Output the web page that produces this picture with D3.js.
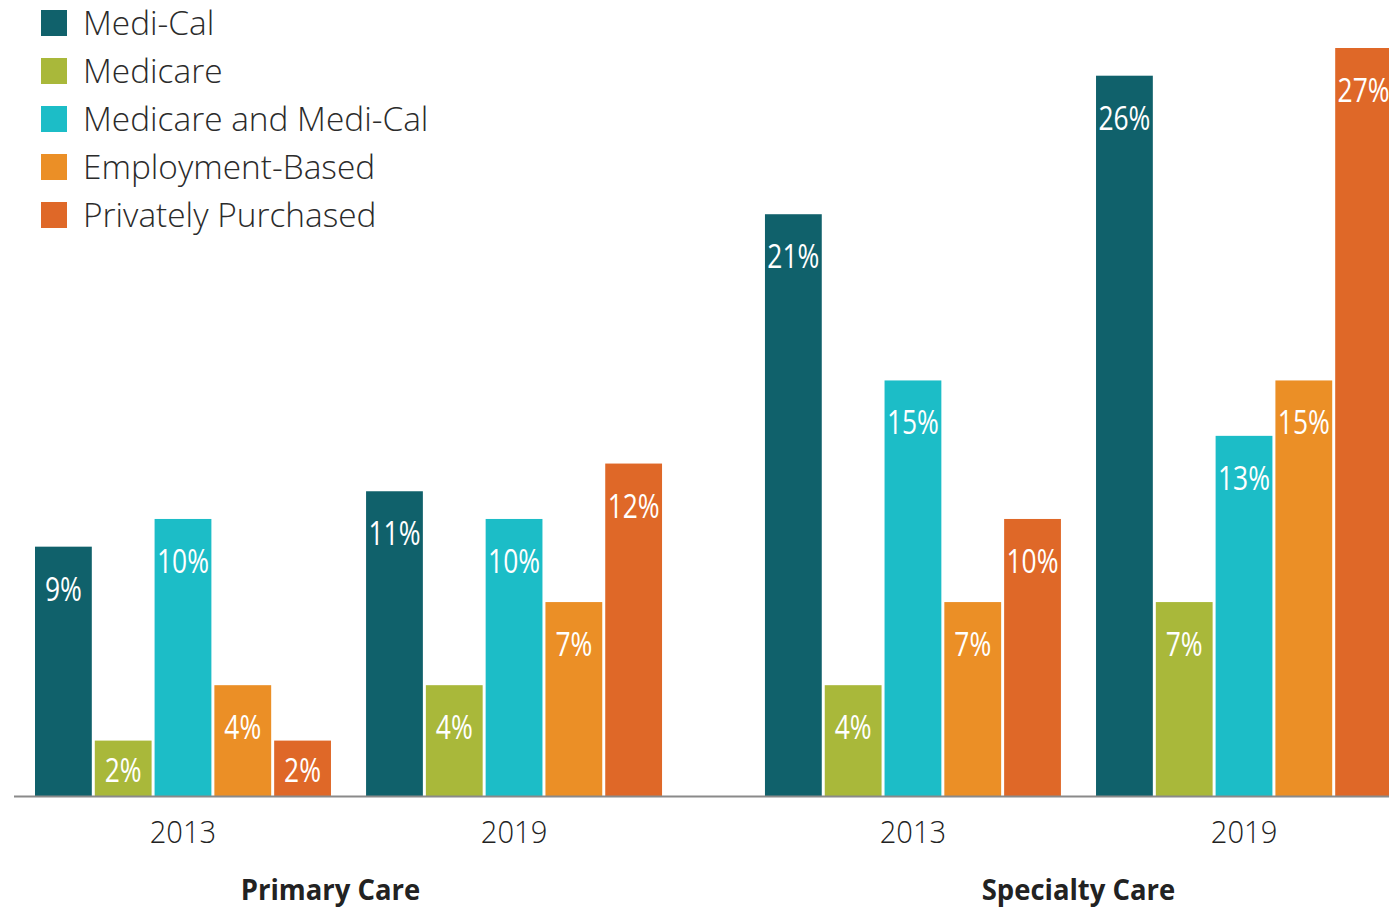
<!DOCTYPE html>
<html lang="en">
<head>
    <meta charset="UTF-8">
    <title>Coverage chart</title>
    <script src="https://d3js.org/d3.v7.js"></script>
    <style>
        body { margin: 0; background: #fff; }
        .legend text { font-family: "Open Sans", sans-serif; font-size: 33.4px; font-weight: 300; fill: #2b2b2b; }
        .value { font-family: "Open Sans", sans-serif; font-size: 33px; fill: #fff; }
        .year { font-family: "Open Sans", sans-serif; font-size: 31px; font-weight: 300; fill: #222; }
        .care { font-family: "Open Sans", sans-serif; font-size: 28px; font-weight: 700; fill: #222; }
    </style>
</head>
<body>
    <svg width="1389" height="907"></svg>
    <script>
        const careTypes = ["Primary Care", "Specialty Care"];
        const years = ["2013", "2019"];
        const series = ["Medi-Cal", "Medicare", "Medicare and Medi-Cal", "Employment-Based", "Privately Purchased"];
        const colors = ["#10616b", "#a9b83a", "#1cbdc7", "#eb8f26", "#df6828"];

        // values in percent, one array per care type and year, in series order
        const primary2013 = [9, 2, 10, 4, 2];
        const primary2019 = [11, 4, 10, 7, 12];
        const specialty2013 = [21, 4, 15, 7, 10];
        const specialty2019 = [26, 7, 13, 15, 27];

        const values = {
            "Primary Care": { "2013": primary2013, "2019": primary2019 },
            "Specialty Care": { "2013": specialty2013, "2019": specialty2019 }
        };

        const svg = d3.select("svg");
        const base = 796;

        const x0 = d3.scaleBand().domain(careTypes).range([35, 1392]).paddingInner(0.141);
        const x1 = d3.scaleBand().domain(years).range([0, x0.bandwidth()]).paddingInner(0.106);
        const x2 = d3.scaleBand().domain(series).range([0, x1.bandwidth()]).paddingInner(0.05);
        const y = d3.scaleLinear().domain([0, 27]).range([base, 48]);
        const color = d3.scaleOrdinal().domain(series).range(colors);

        const careGroups = svg.selectAll(".care-group")
            .data(careTypes)
            .enter().append("g")
            .attr("class", "care-group")
            .attr("transform", d => `translate(${x0(d)},0)`);

        const yearGroups = careGroups.selectAll(".year-group")
            .data(c => years.map(yr => ({ care: c, year: yr })))
            .enter().append("g")
            .attr("class", "year-group")
            .attr("transform", d => `translate(${x1(d.year)},0)`);

        const bars = yearGroups.selectAll(".bar")
            .data(d => series.map((s, i) => ({ name: s, value: values[d.care][d.year][i] })))
            .enter().append("g")
            .attr("class", "bar");

        bars.append("rect")
            .attr("x", d => x2(d.name))
            .attr("width", x2.bandwidth())
            .attr("y", d => y(d.value))
            .attr("height", d => base - y(d.value))
            .attr("fill", d => color(d.name));

        // condensed look: squeeze the labels horizontally
        bars.append("text")
            .attr("class", "value")
            .attr("text-anchor", "middle")
            .attr("transform", d => `translate(${x2(d.name) + x2.bandwidth() / 2},${Math.min(y(d.value) + 54, base - 14)}) scale(0.8,1)`)
            .text(d => d.value + "%");

        // axis line
        svg.append("line")
            .attr("x1", 14).attr("x2", 1389)
            .attr("y1", base + 0.5).attr("y2", base + 0.5)
            .attr("stroke", "#8a8a8a")
            .attr("stroke-width", 2);

        yearGroups.append("text")
            .attr("class", "year")
            .attr("text-anchor", "middle")
            .attr("transform", `translate(${x1.bandwidth() / 2},843) scale(0.94,1)`)
            .text(d => d.year);

        careGroups.append("text")
            .attr("class", "care")
            .attr("text-anchor", "middle")
            .attr("transform", (d, i) => `translate(${x0.bandwidth() / 2 - (i === 0 ? 18 : 0)},900) scale(0.98,1)`)
            .text(d => d);

        const legend = svg.append("g")
            .attr("class", "legend")
            .selectAll("g")
            .data(series)
            .enter().append("g")
            .attr("transform", (d, i) => `translate(41,${10 + i * 48})`);

        legend.append("rect")
            .attr("width", 26)
            .attr("height", 26)
            .attr("fill", d => color(d));

        legend.append("text")
            .attr("x", 42)
            .attr("y", 25)
            .text(d => d);
    </script>
</body>
</html>
